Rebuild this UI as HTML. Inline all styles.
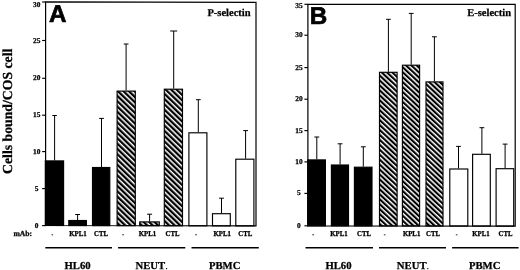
<!DOCTYPE html>
<html><head><meta charset="utf-8"><title>Figure</title>
<style>
html,body{margin:0;padding:0;background:#fff;}
svg{display:block}
.s{font-family:'Liberation Serif', serif;font-weight:bold;fill:#000;stroke:#000;stroke-width:0.25px;text-rendering:geometricPrecision}
.n{font-weight:normal;stroke:none}
.h{font-family:'Liberation Sans', sans-serif;font-weight:bold;fill:#000;stroke:#000;stroke-width:0.7px;stroke-linejoin:miter;text-rendering:geometricPrecision}
</style></head><body>
<svg width="520" height="270" viewBox="0 0 520 270">
<defs>
<pattern id="hatchA" patternUnits="userSpaceOnUse" width="3.81" height="10" patternTransform="rotate(-46)">
<rect x="0" y="0" width="3.81" height="10" fill="#fff"/>
<rect x="0" y="0" width="2.28" height="10" fill="#000"/>
</pattern>
<pattern id="hatchB" patternUnits="userSpaceOnUse" width="3.62" height="10" patternTransform="rotate(-47)">
<rect x="0" y="0" width="3.62" height="10" fill="#fff"/>
<rect x="0" y="0" width="2.12" height="10" fill="#000"/>
</pattern>
</defs>
<rect width="520" height="270" fill="#fff"/>
<path d="M54.6 115.5V160.4M52.3 115.5H56.9" stroke="#000" stroke-width="1" fill="none"/>
<rect x="45.3" y="160.9" width="18.3" height="64.6" fill="#000" stroke="#000" stroke-width="1.15"/>
<path d="M77.6 214.5V220M75.2 214.5H80" stroke="#000" stroke-width="1" fill="none"/>
<rect x="68.8" y="220.5" width="17.6" height="5.04" fill="#000" stroke="#000" stroke-width="1.15"/>
<path d="M101.5 118.4V167M99.1 118.4H103.9" stroke="#000" stroke-width="1" fill="none"/>
<rect x="92.5" y="167.5" width="17.3" height="58.09" fill="#000" stroke="#000" stroke-width="1.15"/>
<path d="M126.1 44V90.6M123.7 44H128.5" stroke="#000" stroke-width="1" fill="none"/>
<rect x="117.1" y="91.1" width="18.2" height="134.54" fill="url(#hatchA)" stroke="#000" stroke-width="1.15"/>
<path d="M149.6 214.2V221.4M147.1 214.2H152.1" stroke="#000" stroke-width="1" fill="none"/>
<rect x="139.7" y="221.9" width="19.6" height="3.78" fill="url(#hatchA)" stroke="#000" stroke-width="1.15"/>
<path d="M173.7 31V88.7M170.2 31H177.2" stroke="#000" stroke-width="1" fill="none"/>
<rect x="164.3" y="89.2" width="18.2" height="136.53" fill="url(#hatchA)" stroke="#000" stroke-width="1.15"/>
<path d="M198.3 99.7V132.3M195.9 99.7H200.7" stroke="#000" stroke-width="1" fill="none"/>
<rect x="188.9" y="132.8" width="18" height="92.97" fill="#fff" stroke="#000" stroke-width="1.15"/>
<path d="M221.5 198.2V213.2M219.1 198.2H223.9" stroke="#000" stroke-width="1" fill="none"/>
<rect x="212.5" y="213.7" width="17.8" height="12.12" fill="#fff" stroke="#000" stroke-width="1.15"/>
<path d="M245.6 130.6V158.7M243.2 130.6H248" stroke="#000" stroke-width="1" fill="none"/>
<rect x="235.8" y="159.2" width="18.1" height="66.66" fill="#fff" stroke="#000" stroke-width="1.15"/>
<path d="M316.8 137V159.4M314.4 137H319.2" stroke="#000" stroke-width="1" fill="none"/>
<rect x="307.7" y="159.9" width="17.7" height="65.9" fill="#000" stroke="#000" stroke-width="1.15"/>
<path d="M340.1 143.8V164.5M337.7 143.8H342.5" stroke="#000" stroke-width="1" fill="none"/>
<rect x="331.4" y="165" width="17.1" height="60.83" fill="#000" stroke="#000" stroke-width="1.15"/>
<path d="M363.3 146.8V166.7M360.9 146.8H365.7" stroke="#000" stroke-width="1" fill="none"/>
<rect x="354.4" y="167.2" width="17.6" height="58.67" fill="#000" stroke="#000" stroke-width="1.15"/>
<path d="M388.4 19.3V71.8M386 19.3H390.8" stroke="#000" stroke-width="1" fill="none"/>
<rect x="379.5" y="72.3" width="17.6" height="153.6" fill="url(#hatchB)" stroke="#000" stroke-width="1.15"/>
<path d="M411.2 13.4V64.7M408.8 13.4H413.6" stroke="#000" stroke-width="1" fill="none"/>
<rect x="402.4" y="65.2" width="17.2" height="160.74" fill="url(#hatchB)" stroke="#000" stroke-width="1.15"/>
<path d="M434.4 36.8V81.4M432 36.8H436.8" stroke="#000" stroke-width="1" fill="none"/>
<rect x="426" y="81.9" width="17" height="144.07" fill="url(#hatchB)" stroke="#000" stroke-width="1.15"/>
<path d="M458.5 146.4V168.5M456.1 146.4H460.9" stroke="#000" stroke-width="1" fill="none"/>
<rect x="449.8" y="169" width="18" height="57" fill="#fff" stroke="#000" stroke-width="1.15"/>
<path d="M481.9 127.7V153.8M479.5 127.7H484.3" stroke="#000" stroke-width="1" fill="none"/>
<rect x="472.6" y="154.3" width="17.7" height="71.74" fill="#fff" stroke="#000" stroke-width="1.15"/>
<path d="M505.1 144.1V168.2M502.7 144.1H507.5" stroke="#000" stroke-width="1" fill="none"/>
<rect x="496.1" y="168.7" width="17.6" height="57.37" fill="#fff" stroke="#000" stroke-width="1.15"/>
<path d="M45.6 1.8L256 2.4L256 225.9L45.6 225.5Z" fill="none" stroke="#000" stroke-width="1.2"/>
<path d="M307.9 4.3L515.2 4.4L515.2 226.1L307.9 225.8Z" fill="none" stroke="#000" stroke-width="1.2"/>
<path d="M42.1 225.6H45.6" stroke="#000" stroke-width="1.15"/>
<text x="36.7" y="227.6" text-anchor="middle" font-size="7.4" class="s">0</text>
<path d="M42.1 188.6H45.6" stroke="#000" stroke-width="1.15"/>
<text x="36.7" y="190.6" text-anchor="middle" font-size="7.4" class="s">5</text>
<path d="M42.1 151.6H45.6" stroke="#000" stroke-width="1.15"/>
<text x="36.7" y="153.6" text-anchor="middle" font-size="7.4" class="s">10</text>
<path d="M42.1 115.2H45.6" stroke="#000" stroke-width="1.15"/>
<text x="36.7" y="117.2" text-anchor="middle" font-size="7.4" class="s">15</text>
<path d="M42.1 78.3H45.6" stroke="#000" stroke-width="1.15"/>
<text x="36.7" y="80.3" text-anchor="middle" font-size="7.4" class="s">20</text>
<path d="M42.1 40.5H45.6" stroke="#000" stroke-width="1.15"/>
<text x="36.7" y="42.5" text-anchor="middle" font-size="7.4" class="s">25</text>
<path d="M42.1 2H45.6" stroke="#000" stroke-width="1.15"/>
<text x="36.7" y="6.6" text-anchor="middle" font-size="7.4" class="s">30</text>
<path d="M304.4 225.8H307.9" stroke="#000" stroke-width="1.15"/>
<text x="298.9" y="227.8" text-anchor="middle" font-size="7.4" class="s">0</text>
<path d="M304.4 193.4H307.9" stroke="#000" stroke-width="1.15"/>
<text x="298.9" y="195.4" text-anchor="middle" font-size="7.4" class="s">5</text>
<path d="M304.4 161.9H307.9" stroke="#000" stroke-width="1.15"/>
<text x="298.9" y="163.9" text-anchor="middle" font-size="7.4" class="s">10</text>
<path d="M304.4 130.6H307.9" stroke="#000" stroke-width="1.15"/>
<text x="298.9" y="132.6" text-anchor="middle" font-size="7.4" class="s">15</text>
<path d="M304.4 99.2H307.9" stroke="#000" stroke-width="1.15"/>
<text x="298.9" y="101.2" text-anchor="middle" font-size="7.4" class="s">20</text>
<path d="M304.4 67.6H307.9" stroke="#000" stroke-width="1.15"/>
<text x="298.9" y="69.6" text-anchor="middle" font-size="7.4" class="s">25</text>
<path d="M304.4 35.2H307.9" stroke="#000" stroke-width="1.15"/>
<text x="298.9" y="37.2" text-anchor="middle" font-size="7.4" class="s">30</text>
<path d="M304.4 4.3H307.9" stroke="#000" stroke-width="1.15"/>
<text x="298.9" y="7.8" text-anchor="middle" font-size="7.4" class="s">35</text>
<text x="49.0" y="21.8" font-size="24.2" class="h">A</text>
<text x="309.8" y="24.0" font-size="24.2" class="h">B</text>
<text x="250.6" y="15.6" text-anchor="end" font-size="10.5" class="s">P-selectin</text>
<text x="511" y="15.6" text-anchor="end" font-size="10.5" class="s">E-selectin</text>
<text transform="translate(12.0 111.3) rotate(-90)" text-anchor="middle" font-size="13.75" class="s">Cells bound/COS cell</text>
<text x="13.4" y="235.8" font-size="7.7" class="s">mAb:</text>
<text x="52.4" y="236.4" text-anchor="middle" font-size="5.2" class="s">-</text>
<text transform="translate(78 236.3) scale(1 1.1)" text-anchor="middle" font-size="6.8" class="s">KPL1</text>
<text transform="translate(101 236.3) scale(1 1.1)" text-anchor="middle" font-size="6.8" class="s">CTL</text>
<text x="123" y="236.4" text-anchor="middle" font-size="5.2" class="s">-</text>
<text transform="translate(147.4 236.3) scale(1 1.1)" text-anchor="middle" font-size="6.8" class="s">KPL1</text>
<text transform="translate(172.5 236.3) scale(1 1.1)" text-anchor="middle" font-size="6.8" class="s">CTL</text>
<text x="196" y="236.4" text-anchor="middle" font-size="5.2" class="s">-</text>
<text transform="translate(222.2 236.3) scale(1 1.1)" text-anchor="middle" font-size="6.8" class="s">KPL1</text>
<text transform="translate(245.3 236.3) scale(1 1.1)" text-anchor="middle" font-size="6.8" class="s">CTL</text>
<text x="313" y="236.4" text-anchor="middle" font-size="5.2" class="s">-</text>
<text transform="translate(339 236.3) scale(1 1.1)" text-anchor="middle" font-size="6.8" class="s">KPL1</text>
<text transform="translate(364 236.3) scale(1 1.1)" text-anchor="middle" font-size="6.8" class="s">CTL</text>
<text x="384.6" y="236.4" text-anchor="middle" font-size="5.2" class="s">-</text>
<text transform="translate(411.6 236.3) scale(1 1.1)" text-anchor="middle" font-size="6.8" class="s">KPL1</text>
<text transform="translate(433 236.3) scale(1 1.1)" text-anchor="middle" font-size="6.8" class="s">CTL</text>
<text x="456.7" y="236.4" text-anchor="middle" font-size="5.2" class="s">-</text>
<text transform="translate(481 236.3) scale(1 1.1)" text-anchor="middle" font-size="6.8" class="s">KPL1</text>
<text transform="translate(505.5 236.3) scale(1 1.1)" text-anchor="middle" font-size="6.8" class="s">CTL</text>
<path d="M45.3 247.7H112" stroke="#000" stroke-width="1.6"/>
<path d="M118.1 247.7H185.3" stroke="#000" stroke-width="1.6"/>
<path d="M191.5 247.7H258.8" stroke="#000" stroke-width="1.6"/>
<path d="M305.5 247.7H373" stroke="#000" stroke-width="1.6"/>
<path d="M379 247.7H446" stroke="#000" stroke-width="1.6"/>
<path d="M452.1 247.7H518.6" stroke="#000" stroke-width="1.6"/>
<text x="77.6" y="268.7" text-anchor="middle" font-size="10.7" class="s">HL60</text>
<text x="151.7" y="268.7" text-anchor="middle" font-size="10.7" class="s">NEUT<tspan class="n">.</tspan></text>
<text x="224.7" y="268.7" text-anchor="middle" font-size="10.7" class="s">PBMC</text>
<text x="338.5" y="268.7" text-anchor="middle" font-size="10.7" class="s">HL60</text>
<text x="413" y="268.7" text-anchor="middle" font-size="10.7" class="s">NEUT<tspan class="n">.</tspan></text>
<text x="484.7" y="268.7" text-anchor="middle" font-size="10.7" class="s">PBMC</text>
</svg>
</body></html>
